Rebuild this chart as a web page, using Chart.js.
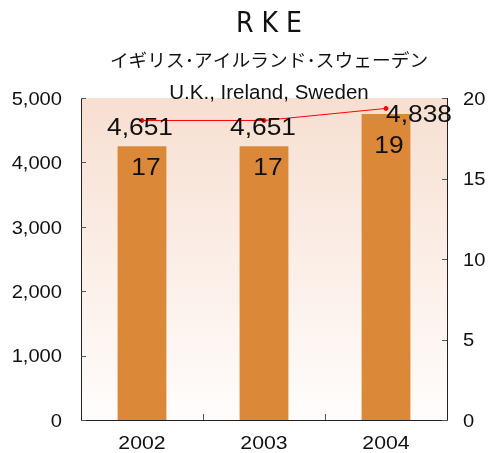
<!DOCTYPE html>
<html>
<head>
<meta charset="utf-8">
<script src="https://cdn.jsdelivr.net/npm/chart.js@4/dist/chart.umd.min.js"></script>
<style>
  html, body { margin: 0; padding: 0; background: #fff; }
  #wrap { width: 493px; height: 453px; }
</style>
</head>
<body>
<div id="wrap"><canvas id="myChart" width="493" height="453"></canvas></div>
<script>
// data
const years = ['2002', '2003', '2004'];
const barValues = [17, 17, 19];            // right axis
const lineValues = [4651, 4651, 4838];     // left axis
const leftTicks = [0, 1000, 2000, 3000, 4000, 5000];
const rightTicks = [0, 5, 10, 15, 20];

const FONT = "'Liberation Sans', Arial, sans-serif";
const STRETCH = 1.15; // reference text is a bit wide
const fmt = (v) => v.toLocaleString('en-US');

// text drawn with a small horizontal stretch
const drawText = (ctx, text, x, y, align, sx) => {
  ctx.save();
  ctx.translate(x, y);
  ctx.scale(sx, 1);
  ctx.textAlign = align;
  ctx.textBaseline = 'middle';
  ctx.fillText(text, 0, 0);
  ctx.restore();
};

// chart area background, inward ticks, labels and titles
const decor = {
  id: 'decor',
  beforeDatasetsDraw(chart) {
    const { ctx, chartArea: a } = chart;
    const g = ctx.createLinearGradient(0, a.top, 0, a.bottom);
    g.addColorStop(0, '#f7dfd1');
    g.addColorStop(1, '#fffdfc');
    ctx.save();
    ctx.fillStyle = g;
    ctx.fillRect(a.left, a.top, a.right - a.left, a.bottom - a.top);
    ctx.restore();
  },
  afterDatasetsDraw(chart) {
    const { ctx, chartArea: a, scales } = chart;
    ctx.save();
    // axis lines
    ctx.strokeStyle = '#222';
    ctx.lineWidth = 1;
    ctx.beginPath();
    ctx.moveTo(a.left + 0.5, a.top);
    ctx.lineTo(a.left + 0.5, a.bottom + 0.5);
    ctx.lineTo(a.right + 0.5, a.bottom + 0.5);
    ctx.lineTo(a.right + 0.5, a.top);
    ctx.stroke();
    // inward ticks
    ctx.strokeStyle = '#555';
    ctx.beginPath();
    leftTicks.forEach((t) => {
      const y = Math.round(scales.y.getPixelForValue(t)) + 0.5;
      ctx.moveTo(a.left, y);
      ctx.lineTo(a.left + 5, y);
    });
    rightTicks.forEach((t) => {
      const y = Math.round(scales.y2.getPixelForValue(t)) + 0.5;
      ctx.moveTo(a.right, y);
      ctx.lineTo(a.right - 5, y);
    });
    for (let i = 0; i < years.length - 1; i++) {
      const x = Math.round((scales.x.getPixelForValue(i) + scales.x.getPixelForValue(i + 1)) / 2) + 0.5;
      ctx.moveTo(x, a.bottom);
      ctx.lineTo(x, a.bottom - 6);
    }
    ctx.stroke();

    ctx.fillStyle = '#111';
    // tick labels
    ctx.font = `17.5px ${FONT}`;
    leftTicks.forEach((t) => {
      drawText(ctx, fmt(t), 62, scales.y.getPixelForValue(t) + 2, 'right', STRETCH);
    });
    rightTicks.forEach((t) => {
      drawText(ctx, String(t), 463, scales.y2.getPixelForValue(t) + 2, 'left', STRETCH);
    });
    ctx.font = `18px ${FONT}`;
    years.forEach((yr, i) => {
      drawText(ctx, yr, scales.x.getPixelForValue(i), 444, 'center', 1.18);
    });

    // value labels
    ctx.font = `23.5px ${FONT}`;
    const barDx = [4, 4, 3];
    const barDy = [22, 22, 32];
    chart.getDatasetMeta(0).data.forEach((bar, i) => {
      drawText(ctx, String(barValues[i]), bar.x + barDx[i], bar.y + barDy[i], 'center', 1.12);
    });
    const lineDx = [-2, -1, 33];
    const lineDy = [8, 8, 7];
    chart.getDatasetMeta(1).data.forEach((pt, i) => {
      drawText(ctx, fmt(lineValues[i]), pt.x + lineDx[i], pt.y + lineDy[i], 'center', 1.12);
    });

    // titles
    const cx = 269;
    ctx.font = `28px 'DejaVu Sans Condensed', ${FONT}`;
    drawText(ctx, 'R K E', cx, 25, 'center', 1);
    ctx.font = "18px 'Noto Sans CJK JP', sans-serif";
    drawText(ctx, 'イギリス･アイルランド･スウェーデン', cx, 60, 'center', 1.04);
    ctx.font = `20.5px ${FONT}`;
    drawText(ctx, 'U.K., Ireland, Sweden', cx, 93, 'center', 1);
    ctx.restore();
  },
};

const config = {
  data: {
    labels: years,
    datasets: [
      {
        type: 'bar',
        data: barValues,
        yAxisID: 'y2',
        backgroundColor: '#dc8839',
        barPercentage: 0.4,
        categoryPercentage: 1,
        order: 2,
      },
      {
        type: 'line',
        data: lineValues,
        yAxisID: 'y',
        borderColor: '#ff0000',
        backgroundColor: '#ff0000',
        borderWidth: 1,
        pointRadius: 2,
        order: 1,
      },
    ],
  },
  options: {
    responsive: false,
    animation: false,
    layout: { padding: { top: 98, left: 0, right: 0, bottom: 0 } },
    plugins: {
      legend: { display: false },
      tooltip: { enabled: false },
      title: { display: false },
    },
    scales: {
      x: {
        grid: { display: false },
        border: { display: false },
        ticks: { display: false },
        afterFit: (s) => { s.height = 33; },
      },
      y: {
        position: 'left',
        min: 0,
        max: 5000,
        grid: { display: false },
        border: { display: false },
        ticks: { display: false, stepSize: 1000 },
        afterFit: (s) => { s.width = 81; },
      },
      y2: {
        position: 'right',
        min: 0,
        max: 20,
        grid: { display: false },
        border: { display: false },
        ticks: { display: false, stepSize: 5 },
        afterFit: (s) => { s.width = 46; },
      },
    },
  },
  plugins: [decor],
};

const ctxType = document.getElementById('myChart');
try {
  const chart = new Chart(ctxType, config);
} catch (e) {
  console.log(e);
}
</script>
</body>
</html>
